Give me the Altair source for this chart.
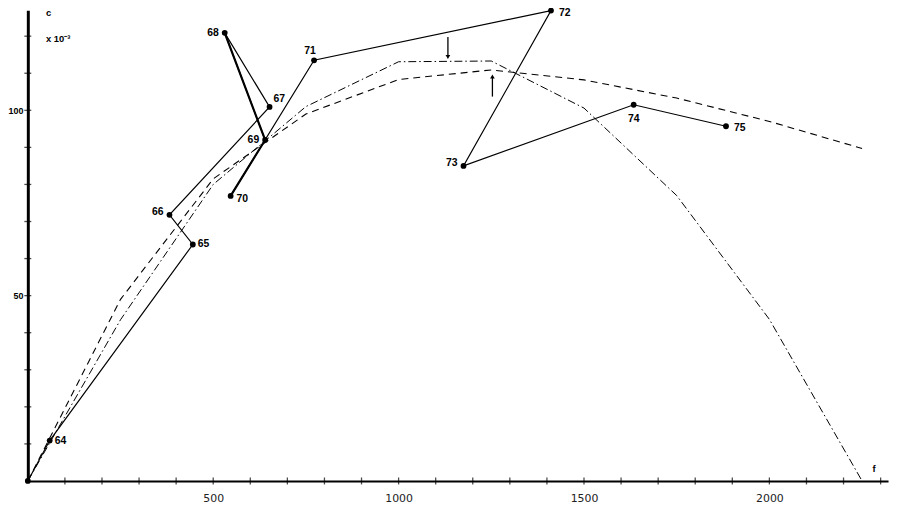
import altair as alt
import pandas as pd

# observed yearly points (f, c x10^-3), starting at origin
years = ["", "64", "65", "66", "67", "68", "69", "70", "71", "72", "73", "74", "75"]
obs_f = [0, 59, 445, 382, 652, 531, 640, 547, 772, 1411, 1175, 1634, 1883]
obs_c = [0, 10.9, 63.8, 71.8, 100.9, 120.9, 92.0, 76.9, 113.5, 126.9, 85.0, 101.5, 95.7]

# model curves
curve_f = [0, 250, 500, 750, 1000, 1250, 1500, 1750, 2000, 2250]
dashed_c = [0, 49, 81.5, 99, 108.3, 110.9, 108.2, 103.3, 97.0, 89.7]
dashdot_c = [0, 43.5, 80, 101, 113.1, 113.3, 100.6, 77, 43.6, 0]

# arrows
arrow_f = [1133, 1253]
arrow_from = [119.8, 103.7]
arrow_to = [114.4, 109.1]
arrow_shape = ["triangle-down", "triangle-up"]

# axis ticks / labels
x_ticks = [100, 200, 300, 400, 500, 600, 700, 800, 900, 1000, 1100, 1200,
           1300, 1400, 1500, 1600, 1700, 1800, 1900, 2000, 2100, 2200, 2300]
x_labels = [500, 1000, 1500, 2000]
y_ticks = [10, 20, 30, 40, 50, 60, 70, 80, 90, 100, 110, 120]
y_labels = [50, 100]

# annotation texts
ann_text = ["c", "x 10\u207b\u00b3", "f"]
ann_f = [56, 82, 2282]
ann_c = [126.2, 119.3, 3.3]

obs = pd.DataFrame({"f": obs_f, "c": obs_c, "year": years,
                    "order": list(range(len(years)))})
curves = pd.DataFrame({"f": curve_f, "dashed": dashed_c, "dashdot": dashdot_c})
arrows = pd.DataFrame({"f": arrow_f, "c0": arrow_from, "c1": arrow_to, "shape": arrow_shape})
xt = pd.DataFrame({"f": x_ticks})
yt = pd.DataFrame({"c": y_ticks})
ann = pd.DataFrame({"f": ann_f, "c": ann_c, "t": ann_text})

xs = alt.Scale(domain=[0, 2320], nice=False, zero=False)
ys = alt.Scale(domain=[0, 127], nice=False, zero=False)
xax = alt.Axis(title=None, values=x_labels, format="d", ticks=False, tickSize=0, grid=False,
               labelPadding=12, labelFont="DejaVu Sans", labelFontSize=11,
               labelColor="#222", domainColor="black", domainWidth=2)
yax = alt.Axis(title=None, values=y_labels, format="d", ticks=False, tickSize=0, grid=False,
               labelPadding=5, labelFont="Liberation Sans", labelFontSize=9,
               labelFontWeight="bold", labelColor="black",
               domainColor="black", domainWidth=3)


def X(field):
    return alt.X(field, type="quantitative", scale=xs, axis=xax)


def Y(field):
    return alt.Y(field, type="quantitative", scale=ys, axis=yax)


base_obs = alt.Chart(obs)

solid = base_obs.mark_line(color="black", strokeWidth=1.2).encode(
    x=X("f"), y=Y("c"), order="order:Q")

thick = base_obs.transform_filter(
    alt.FieldOneOfPredicate(field="year", oneOf=["68", "69", "70"])
).mark_line(color="black", strokeWidth=2.2).encode(x=X("f"), y=Y("c"), order="order:Q")

dots = base_obs.transform_filter("datum.year != ''").mark_circle(
    color="black", size=34, opacity=1).encode(x=X("f"), y=Y("c"))


def labels(sel, **kw):
    return base_obs.transform_filter(
        alt.FieldOneOfPredicate(field="year", oneOf=sel)
    ).mark_text(font="Liberation Sans", fontSize=10.5, fontWeight="bold",
                color="black", **kw).encode(x=X("f"), y=Y("c"), text="year:N")


lab_r = labels(["64", "65"], align="left", dx=5, dy=0)
lab_67 = labels(["67"], align="left", dx=4, dy=-8)
lab_72 = labels(["72", "75"], align="left", dx=8, dy=2)
lab_70 = labels(["70"], align="left", dx=6, dy=3)
lab_l = labels(["68", "69"], align="right", dx=-6, dy=0)
lab_66 = labels(["66", "73"], align="right", dx=-6, dy=-3)
lab_71 = labels(["71"], align="center", dx=-4, dy=-9)
lab_74 = labels(["74"], align="center", dx=0, dy=14)

dashed = alt.Chart(curves).mark_line(color="black", strokeWidth=1.1,
                                     strokeDash=[7, 5]).encode(x=X("f"), y=Y("dashed"))
dashdot = alt.Chart(curves).mark_line(color="black", strokeWidth=1,
                                      strokeDash=[8, 3, 1.5, 3]).encode(x=X("f"), y=Y("dashdot"))

arrow_line = alt.Chart(arrows).mark_rule(color="black", strokeWidth=1.3).encode(
    x=X("f"), y=Y("c0"), y2="c1")
arrow_head = alt.Chart(arrows).mark_point(filled=True, color="black", size=22, opacity=1).encode(
    x=X("f"), y=Y("c1"), shape=alt.Shape("shape:N", scale=None))

xtick = alt.Chart(xt).mark_tick(orient="vertical", color="black", size=7, thickness=1.3).encode(
    x=X("f"), y=alt.YDatum(0, type="quantitative", scale=ys, axis=yax))
ytick = alt.Chart(yt).mark_tick(orient="horizontal", color="black", size=7, thickness=1.3).encode(
    y=Y("c"), x=alt.XDatum(0, type="quantitative", scale=xs, axis=xax))

annot = alt.Chart(ann).mark_text(font="Liberation Sans", fontSize=9.5, fontWeight="bold",
                                 color="black").encode(x=X("f"), y=Y("c"), text="t:N")

chart = alt.layer(
    dashed, dashdot, solid, thick, dots, arrow_line, arrow_head,
    lab_r, lab_67, lab_72, lab_70, lab_l, lab_66, lab_71, lab_74,
    xtick, ytick, annot
).properties(
    width=868, height=475,
    autosize=alt.AutoSizeParams(type="none"),
    padding={"left": 20, "top": 0, "right": 4, "bottom": 22},
    background="white",
).configure_view(stroke=None)

chart.save("out.html", embed_options={"renderer": "svg", "actions": False})
